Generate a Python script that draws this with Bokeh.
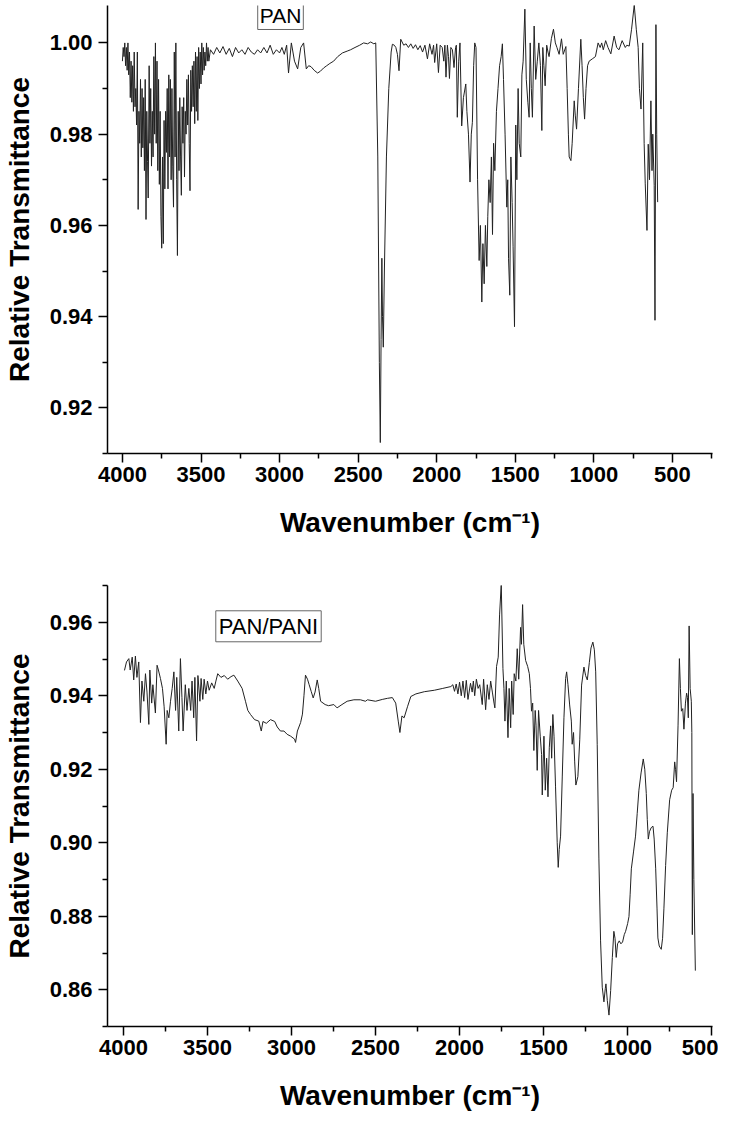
from bokeh.plotting import figure
from bokeh.models import Range1d, FixedTicker, Label, PrintfTickFormatter
from bokeh.layouts import column
from bokeh.embed import file_html
from bokeh.resources import INLINE

# ---------------- data: PAN (top) ----------------
pan_wn = [
    4000, 3995, 3990, 3985, 3980, 3975, 3970, 3965, 3960, 3955,
    3950, 3945, 3940, 3935, 3930, 3925, 3920, 3915, 3910, 3905,
    3900, 3895, 3890, 3885, 3880, 3875, 3870, 3865, 3860, 3855,
    3850, 3845, 3840, 3836, 3830, 3825, 3820, 3815, 3810, 3805,
    3800, 3795, 3790, 3785, 3780, 3775, 3770, 3765, 3760, 3755,
    3750, 3745, 3740, 3735, 3730, 3725, 3720, 3715, 3710, 3705,
    3700, 3695, 3690, 3685, 3680, 3675, 3670, 3665, 3660, 3655,
    3650, 3645, 3640, 3635, 3630, 3625, 3620, 3615, 3610, 3605,
    3600, 3595, 3590, 3585, 3580, 3575, 3570, 3565, 3560, 3555,
    3550, 3545, 3540, 3535, 3530, 3525, 3520, 3515, 3510, 3505,
    3500, 3495, 3490, 3485, 3480, 3475, 3470, 3465, 3460, 3455,
    3450, 3440, 3420, 3400, 3380, 3360, 3340, 3320, 3300, 3280,
    3260, 3240, 3220, 3200, 3180, 3160, 3140, 3120, 3100, 3080,
    3060, 3040, 3020, 3000, 2985, 2970, 2955, 2943, 2925, 2905,
    2885, 2865, 2847, 2830, 2815, 2800, 2780, 2758, 2740, 2720,
    2700, 2680, 2656, 2630, 2600, 2570, 2548, 2520, 2490, 2465,
    2440, 2420, 2400, 2388, 2375, 2365, 2359, 2354, 2349, 2345,
    2340, 2333, 2320, 2305, 2290, 2282, 2270, 2260, 2250, 2240,
    2229, 2210, 2195, 2180, 2165, 2150, 2135, 2120, 2105, 2090,
    2075, 2059, 2045, 2030, 2020, 2013, 2000, 1989, 1978, 1965,
    1955, 1948, 1941, 1932, 1925, 1919, 1910, 1900, 1890, 1880,
    1875, 1869, 1860, 1852, 1841, 1830, 1815, 1808, 1798, 1788,
    1780, 1773, 1765, 1758, 1750, 1740, 1730, 1722, 1713, 1706,
    1698, 1690, 1681, 1675, 1668, 1660, 1652, 1645, 1638, 1630,
    1620, 1610, 1600, 1590, 1582, 1575, 1565, 1554, 1548, 1543,
    1535, 1528, 1520, 1514, 1505, 1497, 1490, 1482, 1475, 1465,
    1458, 1450, 1439, 1430, 1420, 1412, 1405, 1398, 1391, 1380,
    1370, 1360, 1350, 1340, 1331, 1325, 1318, 1310, 1300, 1292,
    1285, 1270, 1257, 1245, 1235, 1221, 1206, 1195, 1178, 1170,
    1162, 1157, 1146, 1138, 1125, 1118, 1110, 1098, 1083, 1075,
    1067, 1059, 1050, 1040, 1030, 1010, 990, 973, 960, 950,
    940, 925, 910, 892, 871, 855, 840, 820, 800, 790,
    775, 760, 743, 730, 718, 710, 700, 689, 680, 673,
    662, 654, 646, 637, 630, 625, 616, 611, 605, 600,
    594,
]
pan_t = [
    0.996, 0.999, 0.997, 1.000, 0.995, 0.999, 0.994, 1.000, 0.993, 0.998,
    0.988, 0.996, 0.987, 0.995, 0.985, 0.998, 0.986, 0.990, 0.982, 0.998,
    0.9635, 0.985, 0.978, 0.992, 0.975, 0.990, 0.977, 0.988, 0.972, 0.992,
    0.9613, 0.985, 0.974, 0.966, 0.995, 0.978, 0.990, 0.973, 0.985, 0.975,
    0.997, 0.980, 1.000, 0.978, 0.996, 0.972, 0.992, 0.969, 0.985, 0.962,
    0.955, 0.975, 0.956, 0.983, 0.968, 0.985, 0.976, 0.990, 0.968, 0.993,
    0.975, 0.992, 0.970, 0.990, 0.973, 0.964, 0.998, 0.975, 1.000, 0.970,
    0.9534, 0.985, 0.972, 0.988, 0.975, 0.9666, 0.986, 0.978, 0.988, 0.9706,
    0.985, 0.980, 0.992, 0.982, 0.993, 0.978, 0.9676, 0.994, 0.985, 0.995,
    0.986, 0.996, 0.9823, 0.998, 0.985, 0.997, 0.983, 0.999, 0.990, 0.998,
    0.991, 1.000, 0.993, 0.999, 0.994, 0.998, 0.995, 1.000, 0.996, 0.999,
    0.996, 0.9985, 0.9975, 0.999, 0.9978, 0.9992, 0.9975, 0.9988, 0.997, 0.999,
    0.9978, 0.9985, 0.9975, 0.999, 0.998, 0.9975, 0.9985, 0.9978, 0.999, 0.9978,
    0.9995, 0.9975, 0.9985, 0.9978, 0.999, 0.9975, 0.9995, 0.9934, 1.000, 0.996,
    0.9943, 0.999, 1.000, 0.9943, 0.995, 0.9948, 0.994, 0.9934, 0.9938, 0.9945,
    0.995, 0.9955, 0.996, 0.997, 0.9978, 0.9982, 0.9985, 0.999, 0.9995, 1.000,
    0.9998, 1.0002, 0.9998, 1.000, 0.975, 0.930, 0.9124, 0.935, 0.9528, 0.940,
    0.9333, 0.950, 0.975, 0.990, 0.998, 0.9997, 0.9995, 0.999, 0.9975, 0.9939,
    1.0008, 0.9995, 0.9998, 0.999, 0.9998, 0.9988, 0.9996, 0.9985, 0.9994, 0.998,
    0.9995, 0.9965, 0.9998, 0.9975, 0.9995, 0.9957, 0.9998, 0.9935, 0.9995, 0.999,
    0.996, 0.9995, 0.9925, 0.9995, 0.997, 0.9922, 0.999, 0.9985, 0.9946, 0.999,
    0.9995, 0.9837, 0.996, 1.000, 0.9818, 0.988, 0.991, 0.985, 0.980, 0.9695,
    0.980, 0.9826, 0.995, 1.000, 0.999, 0.970, 0.9523, 0.960, 0.9432, 0.956,
    0.9472, 0.960, 0.951, 0.962, 0.970, 0.965, 0.975, 0.958, 0.978, 0.972,
    0.985, 0.990, 0.995, 0.997, 0.9998, 0.992, 0.980, 0.964, 0.970, 0.9528,
    0.9447, 0.975, 0.965, 0.9553, 0.9378, 0.982, 0.970, 0.990, 0.978, 0.975,
    0.993, 0.996, 1.0074, 0.992, 0.987, 0.9837, 1.000, 0.990, 0.9837, 1.0037,
    0.992, 0.996, 1.000, 0.995, 0.9808, 0.999, 0.995, 0.9906, 0.9995, 0.998,
    0.997, 1.001, 1.003, 1.000, 0.999, 0.9975, 1.0009, 0.9975, 0.9992, 0.990,
    0.980, 0.975, 0.9742, 0.978, 0.9873, 0.984, 0.9811, 0.990, 1.0008, 0.995,
    0.988, 0.9833, 0.990, 0.995, 0.996, 0.9965, 0.997, 1.000, 0.999, 1.000,
    0.9985, 1.0005, 0.999, 0.9976, 1.0015, 0.999, 0.9985, 1.0005, 0.999, 0.9995,
    0.9993, 1.003, 1.0083, 1.003, 0.999, 0.990, 0.9855, 1.000, 0.978, 0.9691,
    0.9589, 0.9778, 0.970, 0.9873, 0.972, 0.980, 0.9688, 0.9392, 1.004, 0.980,
    0.9651,
]

# ---------------- data: PAN/PANI (bottom) ----------------
pani_wn = [
    3994, 3982, 3968, 3960, 3948, 3939, 3929, 3920, 3909, 3899,
    3890, 3879, 3869, 3860, 3849, 3843, 3832, 3825, 3810, 3800,
    3792, 3780, 3768, 3758, 3746, 3740, 3730, 3720, 3710, 3700,
    3690, 3683, 3671, 3661, 3652, 3645, 3632, 3622, 3611, 3600,
    3592, 3582, 3575, 3565, 3557, 3545, 3538, 3528, 3520, 3510,
    3500, 3490, 3475, 3460, 3450, 3439, 3420, 3400, 3380, 3360,
    3343, 3320, 3294, 3274, 3260, 3244, 3220, 3195, 3180, 3170,
    3150, 3125, 3100, 3085, 3066, 3045, 3026, 3005, 2982, 2976,
    2965, 2946, 2935, 2926, 2917, 2905, 2895, 2883, 2871, 2860,
    2847, 2838, 2827, 2800, 2780, 2748, 2729, 2700, 2669, 2629,
    2590, 2560, 2548, 2500, 2460, 2429, 2400, 2380, 2365, 2355,
    2343, 2330, 2310, 2290, 2260, 2210, 2150, 2100, 2052, 2040,
    2030, 2020, 2010, 2000, 1990, 1980, 1970, 1960, 1950, 1935,
    1925, 1918, 1910, 1900, 1890, 1880, 1865, 1857, 1845, 1835,
    1825, 1815, 1805, 1795, 1790, 1780, 1770, 1762, 1752, 1742,
    1736, 1730, 1722, 1712, 1705, 1696, 1690, 1681, 1675, 1665,
    1657, 1648, 1637, 1632, 1625, 1618, 1607, 1595, 1585, 1578,
    1572, 1565, 1558, 1550, 1545, 1538, 1530, 1520, 1512, 1508,
    1498, 1490, 1482, 1474, 1466, 1458, 1452, 1445, 1438, 1429,
    1419, 1413, 1407, 1399, 1389, 1379, 1369, 1363, 1355, 1345,
    1335, 1330, 1322, 1315, 1308, 1296, 1285, 1274, 1260, 1250,
    1240, 1228, 1218, 1207, 1198, 1190, 1181, 1171, 1161, 1151,
    1141, 1133, 1129, 1121, 1111, 1101, 1091, 1082, 1075, 1068,
    1060, 1050, 1040, 1030, 1020, 1012, 1000, 992, 985, 978,
    965, 953, 943, 933, 920, 907, 898, 889, 883, 877,
    870, 860, 849, 842, 833, 825, 820, 812, 800, 792,
    784, 774, 764, 750, 738, 729, 720, 715, 709, 700,
    692, 686, 680, 672, 665, 656, 649, 644, 639, 634,
    628, 621, 618, 615, 611, 606, 597,
]
pani_t = [
    0.9469, 0.9492, 0.9501, 0.947, 0.9505, 0.9443, 0.9508, 0.945, 0.9492, 0.9327,
    0.944, 0.9385, 0.946, 0.941, 0.9322, 0.947, 0.938, 0.943, 0.9353, 0.9483,
    0.947, 0.9447, 0.942, 0.937, 0.9268, 0.936, 0.934, 0.9385, 0.942, 0.9465,
    0.936, 0.945, 0.9304, 0.9501, 0.9395, 0.9304, 0.943, 0.936, 0.942, 0.936,
    0.944, 0.934, 0.945, 0.9277, 0.9455, 0.9385, 0.9447, 0.939, 0.9445, 0.9405,
    0.944, 0.9415, 0.9435, 0.942, 0.944, 0.946, 0.945, 0.9455, 0.9445, 0.9452,
    0.9456, 0.944, 0.942, 0.9385, 0.936, 0.9349, 0.9335, 0.9331, 0.9304, 0.933,
    0.9325, 0.9335, 0.933, 0.9315, 0.9304, 0.9304, 0.9295, 0.929, 0.9282, 0.9273,
    0.9304, 0.9327, 0.935, 0.940, 0.9456, 0.9445, 0.943, 0.9412, 0.9394, 0.941,
    0.9443, 0.942, 0.9385, 0.9376, 0.9373, 0.9376, 0.9367, 0.9376, 0.9385, 0.9389,
    0.9389, 0.9385, 0.9389, 0.9385, 0.939, 0.9393, 0.9395, 0.938, 0.9331, 0.930,
    0.9345, 0.934, 0.937, 0.9398, 0.9405, 0.9411, 0.9415, 0.942, 0.9425, 0.943,
    0.9412, 0.9432, 0.9405, 0.9437, 0.940, 0.944, 0.9395, 0.9442, 0.939, 0.9434,
    0.941, 0.944, 0.940, 0.9445, 0.942, 0.943, 0.9376, 0.9445, 0.9362, 0.943,
    0.939, 0.944, 0.941, 0.938, 0.9367, 0.948, 0.9505, 0.962, 0.9705, 0.9474,
    0.942, 0.9331, 0.944, 0.9286, 0.942, 0.9313, 0.944, 0.9349, 0.946, 0.944,
    0.9528, 0.9445, 0.9586, 0.954, 0.9648, 0.954, 0.9496, 0.948, 0.946, 0.942,
    0.9358, 0.938, 0.9251, 0.936, 0.932, 0.9197, 0.936, 0.929, 0.924, 0.913,
    0.929, 0.9143, 0.923, 0.9125, 0.926, 0.9318, 0.923, 0.9349, 0.929, 0.9152,
    0.900, 0.8933, 0.8982, 0.9018, 0.9179, 0.934, 0.9447, 0.9465, 0.943, 0.9375,
    0.9331, 0.9268, 0.930, 0.922, 0.9157, 0.918, 0.928, 0.9429, 0.9478, 0.9455,
    0.9443, 0.949, 0.953, 0.9546, 0.9525, 0.9465, 0.9268, 0.8956, 0.8733, 0.8607,
    0.8567, 0.8603, 0.8616, 0.8571, 0.8531, 0.8598, 0.8688, 0.8759, 0.874, 0.8688,
    0.8725, 0.8733, 0.8725, 0.873, 0.875, 0.8759, 0.878, 0.8799, 0.886, 0.8929,
    0.8975, 0.9018, 0.908, 0.9143, 0.919, 0.9228, 0.920, 0.9134, 0.9063, 0.901,
    0.903, 0.9041, 0.9045, 0.901, 0.8929, 0.882, 0.8741, 0.8719, 0.871, 0.874,
    0.8822, 0.8938, 0.9027, 0.9117, 0.9143, 0.915, 0.922, 0.920, 0.9166, 0.932,
    0.9501, 0.942, 0.9358, 0.9365, 0.9309, 0.938, 0.9407, 0.9395, 0.934, 0.959,
    0.942, 0.9385, 0.930, 0.875, 0.9134, 0.890, 0.8652,
]

x_major = [4000, 3500, 3000, 2500, 2000, 1500, 1000, 500]
x_minor = [3750, 3250, 2750, 2250, 1750, 1250, 750, 250]
pan_y_major = [0.92, 0.94, 0.96, 0.98, 1.00]
pan_y_minor = [0.91, 0.93, 0.95, 0.97, 0.99]
pani_y_major = [0.86, 0.88, 0.90, 0.92, 0.94, 0.96]
pani_y_minor = [0.85, 0.87, 0.89, 0.91, 0.93, 0.95, 0.97]

FONT = "Liberation Sans"


def make_fig(height, xr, yr, ymaj, ymin, top, bottom):
    p = figure(width=718, height=height, x_range=Range1d(*xr), y_range=Range1d(*yr),
               output_backend="svg", toolbar_location=None,
               min_border_left=107, min_border_right=6,
               min_border_top=top, min_border_bottom=bottom)
    p.outline_line_color = None
    p.grid.visible = False
    p.background_fill_color = "white"
    p.xaxis.ticker = FixedTicker(ticks=x_major, minor_ticks=x_minor)
    p.yaxis.ticker = FixedTicker(ticks=ymaj, minor_ticks=ymin)
    p.yaxis.formatter = PrintfTickFormatter(format="%.2f")
    for ax in (p.xaxis[0], p.yaxis[0]):
        ax.axis_line_color = "black"
        ax.axis_line_width = 1.5
        ax.major_tick_line_color = "black"
        ax.major_tick_line_width = 1.5
        ax.minor_tick_line_color = "black"
        ax.minor_tick_line_width = 1.5
        ax.major_tick_in = 0
        ax.minor_tick_in = 0
        ax.major_tick_out = 9
        ax.minor_tick_out = 5
        ax.major_label_text_font = FONT
        ax.major_label_text_font_style = "bold"
        ax.major_label_text_font_size = "22px"
        ax.major_label_text_color = "black"
        ax.axis_label_text_font = FONT
        ax.axis_label_text_font_style = "bold"
        ax.axis_label_text_font_size = "28px"
        ax.axis_label_text_color = "black"
    p.xaxis.axis_label = "Wavenumber (cm\u207b\u00b9)"
    p.yaxis.axis_label = "Relative Transmittance"
    p.xaxis.major_label_standoff = 4
    p.xaxis.axis_label_standoff = 22
    p.yaxis.major_label_standoff = 6
    p.yaxis.axis_label_standoff = 12
    return p


p1 = make_fig(555, (4095, 245), (0.910, 1.0082), pan_y_major, pan_y_minor, 5, 102)
p1.line(pan_wn, pan_t, line_color="#222222", line_width=1)
p1.add_layout(Label(x=2994, y=1.0059, text="PAN", text_align="center", text_baseline="middle",
                    text_font=FONT, text_font_size="21px", text_color="black",
                    border_line_color="#666666", border_line_width=1,
                    background_fill_color="white", padding=2))

p2 = make_fig(558, (4095, 495), (0.850, 0.970), pani_y_major, pani_y_minor, 30, 80)
p2.line(pani_wn, pani_t, line_color="#222222", line_width=1)
p2.add_layout(Label(x=3137, y=0.9589, text="PAN/PANI", text_align="center", text_baseline="middle",
                    text_font=FONT, text_font_size="22px", text_color="black",
                    border_line_color="#666666", border_line_width=1,
                    background_fill_color="white", padding=3))

layout = column(p1, p2, spacing=0)
open("out.html", "w").write(file_html(layout, INLINE))
